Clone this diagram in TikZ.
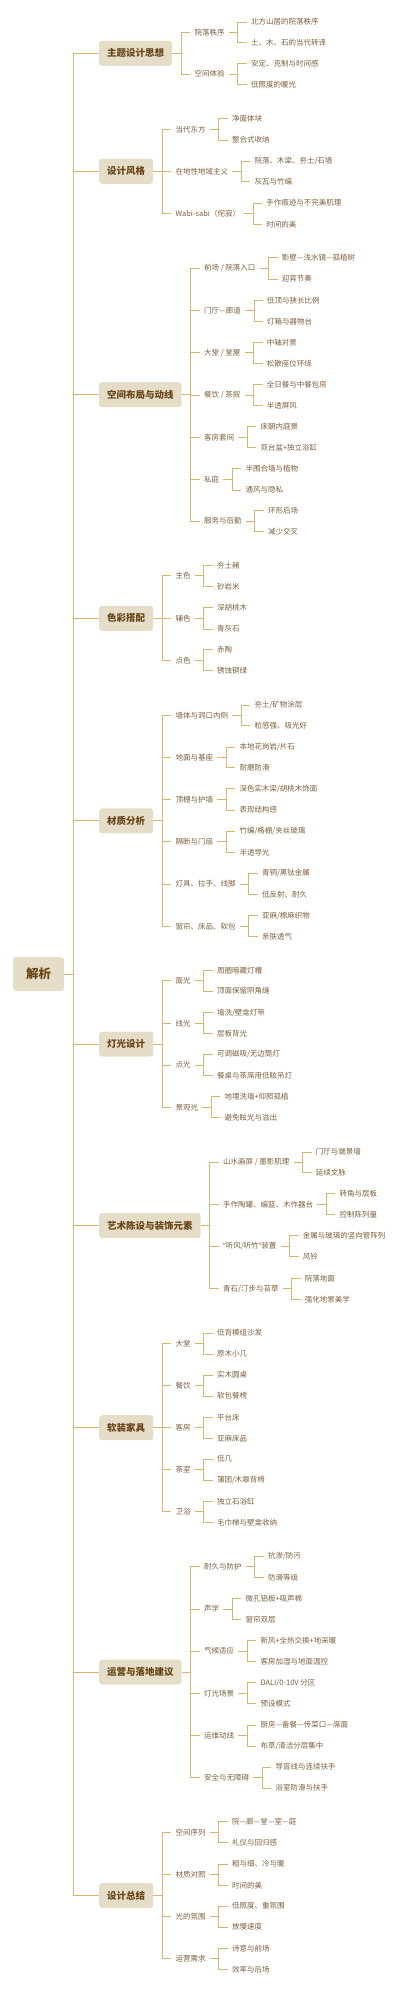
\documentclass[tikz,border=0pt]{standalone}
\usepackage{fontspec}
\setmainfont{Noto Sans CJK SC}
\newfontfamily\quotefont{Noto Sans}
\usepackage{tikz}
\definecolor{mmgold}{RGB}{212,182,112}
\definecolor{mmbeige}{RGB}{229,221,200}
\definecolor{mmbrown}{RGB}{104,68,22}
\definecolor{mmtext}{RGB}{125,95,60}

\begin{document}
\begin{tikzpicture}[x=1pt,y=-1pt,
    root/.style={rounded corners=3pt,fill=mmbeige,text=mmbrown,font=\fontsize{12.5}{14}\selectfont\bfseries,minimum width=51pt,minimum height=34pt},
    topic/.style={rounded corners=3pt,fill=mmbeige,text=mmbrown,font=\fontsize{9.5}{11}\selectfont\bfseries,inner xsep=8pt,minimum height=25pt,anchor=west},
    branch/.style={text=mmtext,font=\fontsize{7.5}{9}\selectfont,inner xsep=4pt,anchor=west,xshift=18pt},
    leaf/.style={branch},
    link/.style={draw=mmgold,line width=0.9pt}]
    \useasboundingbox (0,0) rectangle (400,1991);
    \node[root] (root) at (38.5,974) {解析};

    \node[topic] (theme) at (99,53.3) {主题设计思想};
    \node[branch] (theme1) at (theme.east |- 0,32.3) {院落秩序};
    \node[leaf] (theme1a) at (theme1.east |- 0,22) {北方山居的院落秩序};
    \node[leaf] (theme1b) at (theme1.east |- 0,42.7) {土、木、石的当代转译};
    \node[branch] (theme2) at (theme.east |- 0,74) {空间体验};
    \node[leaf] (theme2a) at (theme2.east |- 0,63.3) {安定、克制与时间感};
    \node[leaf] (theme2b) at (theme2.east |- 0,84.7) {低照度的暖光};

    \node[topic] (style) at (99,171.3) {设计风格};
    \node[branch] (style1) at (style.east |- 0,129.2) {当代东方};
    \node[leaf] (style1a) at (style1.east |- 0,118.3) {净面体块};
    \node[leaf] (style1b) at (style1.east |- 0,140) {整合式收纳};
    \node[branch] (style2) at (style.east |- 0,171.5) {在地性地域主义};
    \node[leaf] (style2a) at (style2.east |- 0,161.3) {院落、木梁、夯土/石墙};
    \node[leaf] (style2b) at (style2.east |- 0,181.7) {灰瓦与竹编};
    \node[branch] (style3) at (style.east |- 0,213.7) {Wabi-sabi（侘寂）};
    \node[leaf] (style3a) at (style3.east |- 0,203) {手作痕迹与不完美肌理};
    \node[leaf] (style3b) at (style3.east |- 0,224.3) {时间的美};

    \node[topic] (layout) at (99,394.7) {空间布局与动线};
    \node[branch] (layout1) at (layout.east |- 0,268.3) {前场 / 院落入口};
    \node[leaf] (layout1a) at (layout1.east |- 0,257.7) {影壁—浅水镜—孤植树};
    \node[leaf] (layout1b) at (layout1.east |- 0,279) {迎宾节奏};
    \node[branch] (layout2) at (layout.east |- 0,310.8) {门厅—廊道};
    \node[leaf] (layout2a) at (layout2.east |- 0,300.3) {低顶与狭长比例};
    \node[leaf] (layout2b) at (layout2.east |- 0,321.3) {灯箱与器物台};
    \node[branch] (layout3) at (layout.east |- 0,352.8) {大堂 / 堂屋};
    \node[leaf] (layout3a) at (layout3.east |- 0,342.3) {中轴对景};
    \node[leaf] (layout3b) at (layout3.east |- 0,363.3) {松散座位环绕};
    \node[branch] (layout4) at (layout.east |- 0,395) {餐饮 / 茶叙};
    \node[leaf] (layout4a) at (layout4.east |- 0,384.3) {全日餐与中餐包房};
    \node[leaf] (layout4b) at (layout4.east |- 0,405.7) {半透屏风};
    \node[branch] (layout5) at (layout.east |- 0,437.2) {客房套间};
    \node[leaf] (layout5a) at (layout5.east |- 0,426.7) {床朝内庭景};
    \node[leaf] (layout5b) at (layout5.east |- 0,447.7) {双台盆+独立浴缸};
    \node[branch] (layout6) at (layout.east |- 0,479.3) {私庭};
    \node[leaf] (layout6a) at (layout6.east |- 0,468.7) {半围合墙与植物};
    \node[leaf] (layout6b) at (layout6.east |- 0,490) {通风与隐私};
    \node[branch] (layout7) at (layout.east |- 0,521) {服务与后勤};
    \node[leaf] (layout7a) at (layout7.east |- 0,510.3) {环形后场};
    \node[leaf] (layout7b) at (layout7.east |- 0,531.7) {减少交叉};

    \node[topic] (palette) at (99,618.3) {色彩搭配};
    \node[branch] (palette1) at (palette.east |- 0,575.8) {主色};
    \node[leaf] (palette1a) at (palette1.east |- 0,565.3) {夯土赭};
    \node[leaf] (palette1b) at (palette1.east |- 0,586.3) {砂岩米};
    \node[branch] (palette2) at (palette.east |- 0,618.3) {辅色};
    \node[leaf] (palette2a) at (palette2.east |- 0,607.7) {深胡桃木};
    \node[leaf] (palette2b) at (palette2.east |- 0,629) {青灰石};
    \node[branch] (palette3) at (palette.east |- 0,660.2) {点色};
    \node[leaf] (palette3a) at (palette3.east |- 0,649.7) {赤陶};
    \node[leaf] (palette3b) at (palette3.east |- 0,670.7) {锈蚀铜绿};

    \node[topic] (material) at (99,820.8) {材质分析};
    \node[branch] (material1) at (material.east |- 0,715.3) {墙体与洞口内侧};
    \node[leaf] (material1a) at (material1.east |- 0,705) {夯土/矿物涂层};
    \node[leaf] (material1b) at (material1.east |- 0,725.7) {粒感强、吸光好};
    \node[branch] (material2) at (material.east |- 0,757.5) {地面与基座};
    \node[leaf] (material2a) at (material2.east |- 0,747.3) {本地花岗岩/片石};
    \node[leaf] (material2b) at (material2.east |- 0,767.7) {耐磨防滑};
    \node[branch] (material3) at (material.east |- 0,799.3) {顶棚与护墙};
    \node[leaf] (material3a) at (material3.east |- 0,788.7) {深色实木梁/胡桃木饰面};
    \node[leaf] (material3b) at (material3.east |- 0,810) {表现结构感};
    \node[branch] (material4) at (material.east |- 0,841.7) {隔断与门扇};
    \node[leaf] (material4a) at (material4.east |- 0,831) {竹编/格栅/夹丝玻璃};
    \node[leaf] (material4b) at (material4.east |- 0,852.3) {半透导光};
    \node[branch] (material5) at (material.east |- 0,884) {灯具、拉手、线脚};
    \node[leaf] (material5a) at (material5.east |- 0,873.3) {青铜/黑钛金属};
    \node[leaf] (material5b) at (material5.east |- 0,894.7) {低反射、耐久};
    \node[branch] (material6) at (material.east |- 0,926.2) {窗帘、床品、软包};
    \node[leaf] (material6a) at (material6.east |- 0,915.7) {亚麻/棉麻织物};
    \node[leaf] (material6b) at (material6.east |- 0,936.7) {亲肤透气};

    \node[topic] (lighting) at (99,1044) {灯光设计};
    \node[branch] (lighting1) at (lighting.east |- 0,980.7) {面光};
    \node[leaf] (lighting1a) at (lighting1.east |- 0,970.3) {周圈暗藏灯槽};
    \node[leaf] (lighting1b) at (lighting1.east |- 0,991) {顶面保留阴角缝};
    \node[branch] (lighting2) at (lighting.east |- 0,1023.2) {线光};
    \node[leaf] (lighting2a) at (lighting2.east |- 0,1012.7) {墙洗/壁龛灯带};
    \node[leaf] (lighting2b) at (lighting2.east |- 0,1033.7) {层板背光};
    \node[branch] (lighting3) at (lighting.east |- 0,1065) {点光};
    \node[leaf] (lighting3a) at (lighting3.east |- 0,1054.3) {可调磁吸/无边筒灯};
    \node[leaf] (lighting3b) at (lighting3.east |- 0,1075.7) {餐桌与茶席用低眩吊灯};
    \node[branch] (lighting4) at (lighting.east |- 0,1107.2) {景观光};
    \node[leaf] (lighting4a) at (lighting4.east |- 0,1096.7) {地埋洗墙+仰照孤植};
    \node[leaf] (lighting4b) at (lighting4.east |- 0,1117.7) {避免眩光与溢出};

    \node[topic] (art) at (99,1225.6) {艺术陈设与装饰元素};
    \node[branch] (art1) at (art.east |- 0,1162.3) {山水画屏 / 墨影肌理};
    \node[leaf] (art1a) at (art1.east |- 0,1152) {门厅与端景墙};
    \node[leaf] (art1b) at (art1.east |- 0,1172.7) {延续文脉};
    \node[branch] (art2) at (art.east |- 0,1204.2) {手作陶罐、编篮、木作器台};
    \node[leaf] (art2a) at (art2.east |- 0,1193.7) {转角与层板};
    \node[leaf] (art2b) at (art2.east |- 0,1214.7) {控制陈列量};
    \node[branch] (art3) at (art.east |- 0,1246.2) {{\quotefont “}听风/听竹{\quotefont ”}装置};
    \node[leaf] (art3a) at (art3.east |- 0,1235.7) {金属与玻璃的竖向管阵列};
    \node[leaf] (art3b) at (art3.east |- 0,1256.7) {风铃};
    \node[branch] (art4) at (art.east |- 0,1288.8) {青石/汀步与苔草};
    \node[leaf] (art4a) at (art4.east |- 0,1278.3) {院落地面};
    \node[leaf] (art4b) at (art4.east |- 0,1299.3) {强化地景美学};

    \node[topic] (furnish) at (99,1427.7) {软装家具};
    \node[branch] (furnish1) at (furnish.east |- 0,1343.5) {大堂};
    \node[leaf] (furnish1a) at (furnish1.east |- 0,1333) {低背模组沙发};
    \node[leaf] (furnish1b) at (furnish1.east |- 0,1354) {原木小几};
    \node[branch] (furnish2) at (furnish.east |- 0,1385.5) {餐饮};
    \node[leaf] (furnish2a) at (furnish2.east |- 0,1375) {实木圆桌};
    \node[leaf] (furnish2b) at (furnish2.east |- 0,1396) {软包餐椅};
    \node[branch] (furnish3) at (furnish.east |- 0,1427.8) {客房};
    \node[leaf] (furnish3a) at (furnish3.east |- 0,1417.3) {平台床};
    \node[leaf] (furnish3b) at (furnish3.east |- 0,1438.3) {亚麻床品};
    \node[branch] (furnish4) at (furnish.east |- 0,1469.7) {茶室};
    \node[leaf] (furnish4a) at (furnish4.east |- 0,1459) {低几};
    \node[leaf] (furnish4b) at (furnish4.east |- 0,1480.3) {蒲团/木靠背椅};
    \node[branch] (furnish5) at (furnish.east |- 0,1511.8) {卫浴};
    \node[leaf] (furnish5a) at (furnish5.east |- 0,1501.3) {独立石浴缸};
    \node[leaf] (furnish5b) at (furnish5.east |- 0,1522.3) {毛巾梯与壁龛收纳};

    \node[topic] (operate) at (99,1672.2) {运营与落地建议};
    \node[branch] (operate1) at (operate.east |- 0,1566.8) {耐久与防护};
    \node[leaf] (operate1a) at (operate1.east |- 0,1556.3) {抗渗/防污};
    \node[leaf] (operate1b) at (operate1.east |- 0,1577.3) {防滑等级};
    \node[branch] (operate2) at (operate.east |- 0,1609) {声学};
    \node[leaf] (operate2a) at (operate2.east |- 0,1598.3) {微孔铝板+吸声棉};
    \node[leaf] (operate2b) at (operate2.east |- 0,1619.7) {窗帘双层};
    \node[branch] (operate3) at (operate.east |- 0,1651) {气候适应};
    \node[leaf] (operate3a) at (operate3.east |- 0,1640.3) {新风+全热交换+地采暖};
    \node[leaf] (operate3b) at (operate3.east |- 0,1661.7) {客房加湿与地面温控};
    \node[branch] (operate4) at (operate.east |- 0,1693.2) {灯光场景};
    \node[leaf] (operate4a) at (operate4.east |- 0,1682.7) {DALI/0-10V 分区};
    \node[leaf] (operate4b) at (operate4.east |- 0,1703.7) {预设模式};
    \node[branch] (operate5) at (operate.east |- 0,1735.5) {运维动线};
    \node[leaf] (operate5a) at (operate5.east |- 0,1725) {厨房—备餐—传菜口—席面};
    \node[leaf] (operate5b) at (operate5.east |- 0,1746) {布草/清洁分层集中};
    \node[branch] (operate6) at (operate.east |- 0,1777.5) {安全与无障碍};
    \node[leaf] (operate6a) at (operate6.east |- 0,1767) {导盲线与连续扶手};
    \node[leaf] (operate6b) at (operate6.east |- 0,1788) {浴室防滑与扶手};

    \node[topic] (summary) at (99,1895.5) {设计总结};
    \node[branch] (summary1) at (summary.east |- 0,1832.2) {空间序列};
    \node[leaf] (summary1a) at (summary1.east |- 0,1821.7) {院—廊—堂—室—庭};
    \node[leaf] (summary1b) at (summary1.east |- 0,1842.7) {礼仪与回归感};
    \node[branch] (summary2) at (summary.east |- 0,1874.7) {材质对照};
    \node[leaf] (summary2a) at (summary2.east |- 0,1864) {粗与细、冷与暖};
    \node[leaf] (summary2b) at (summary2.east |- 0,1885.3) {时间的美};
    \node[branch] (summary3) at (summary.east |- 0,1916.5) {光的氛围};
    \node[leaf] (summary3a) at (summary3.east |- 0,1906) {低照度、重氛围};
    \node[leaf] (summary3b) at (summary3.east |- 0,1927) {放慢速度};
    \node[branch] (summary4) at (summary.east |- 0,1958.8) {运营需求};
    \node[leaf] (summary4a) at (summary4.east |- 0,1948.3) {诗意与前场};
    \node[leaf] (summary4b) at (summary4.east |- 0,1969.3) {效率与后场};

    \foreach \t/\k in {theme/2,style/3,layout/7,palette/3,material/6,lighting/4,art/4,furnish/5,operate/6,summary/4} {
      \draw[link] (root.east) -- ++(9,0) |- (\t.west);
      \foreach \n in {1,...,\k} {
        \draw[link] (\t.east) -- ++(9,0) |- (\t\n.west);
        \draw[link] (\t\n.east) -- ++(9,0) |- (\t\n a.west);
        \draw[link] (\t\n.east) -- ++(9,0) |- (\t\n b.west);
      }
    }
  \end{tikzpicture}
\end{document}
